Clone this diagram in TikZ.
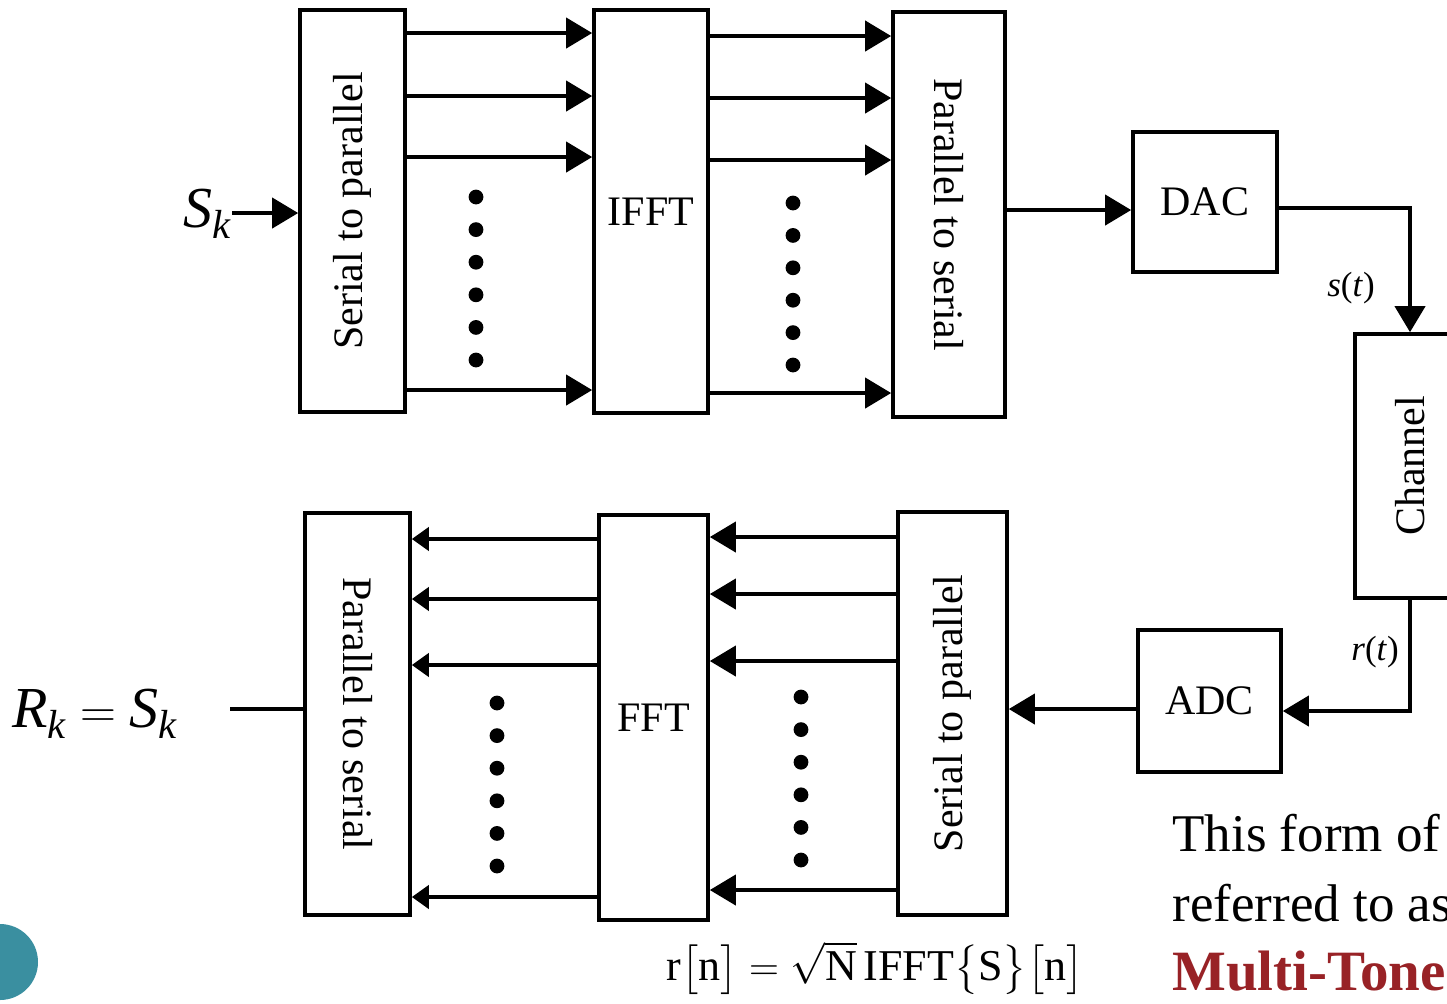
\documentclass[tikz,border=0pt]{standalone}
\usepackage{fontspec}
\usepackage{amsmath}
\usepackage{graphicx}
\setmainfont{Liberation Serif}
\usetikzlibrary{arrows.meta}
\usetikzlibrary{calc}
\definecolor{dmtred}{RGB}{152,34,38}
\definecolor{slideteal}{RGB}{58,143,160}

\begin{document}
\begin{tikzpicture}[x=0.5pt, y=-0.5pt,
	blk/.style = {draw, line width=1.8pt, inner sep=0pt, font=\fontsize{21}{24}\selectfont},
	arr/.style = {line width=2pt, -{Triangle[length=13pt, width=15pt]}},
	arrs/.style = {line width=2pt, -{Triangle[length=8.5pt, width=11.5pt]}},
	lbl/.style = {inner sep=0pt, font=\fontsize{17.5}{20}\selectfont},
	sym/.style = {inner sep=0pt, font=\fontsize{29}{32}\selectfont},
	slide/.style = {anchor=base west, inner sep=0pt, font=\fontsize{26.5}{30}\selectfont}]
	\useasboundingbox (0,0) rectangle (1447,1003);
	\clip (0,0) rectangle (1447,1003);

	\node[blk, minimum width=52.5pt, minimum height=201pt] (s2pT) at (352.5,211) {\rotatebox{90}{Serial to parallel}};
	\node[blk, minimum width=57pt, minimum height=201.5pt] (ifft) at (651,211.5) {IFFT};
	\node[blk, minimum width=56pt, minimum height=202.5pt] (p2sT) at (949,214.5) {\raisebox{0pt}{\rotatebox{-90}{\raisebox{0pt}{Parallel to serial}}}};
	\node[blk, minimum width=72pt, minimum height=70pt] (dac) at (1205,202) {DAC};
	\node[blk, minimum width=55pt, minimum height=132pt] (chan) at (1410,466) {\rotatebox{90}{Channel}};
	\node[blk, minimum width=71.5pt, minimum height=71pt] (adc) at (1209.5,701) {ADC};
	\node[blk, minimum width=54.5pt, minimum height=201.5pt] (s2pB) at (952.5,713.5) {\rotatebox{90}{Serial to parallel}};
	\node[blk, minimum width=54.5pt, minimum height=202.5pt] (fft) at (653.5,717.5) {FFT};
	\node[blk, minimum width=52.5pt, minimum height=201pt] (p2sB) at (357.5,714) {\rotatebox{-90}{Parallel to serial}};

	\node[sym, anchor=east] (sk) at (232,214) {$\textit{S}_{\textit{k}}$};
	\node[sym] (rk) at (95,714) {$\textit{R}_{\textit{k}} = \textit{S}_{\textit{k}}$};
	\coordinate (rkend) at (230,709);
	\node[lbl] (st) at (1351,288) {\textit{s}(\textit{t})};
	\node[lbl] (rt) at (1375,652) {\textit{r}(\textit{t})};

	\draw[arr] (sk.east |- 0,213) -- (s2pT.west |- 0,213);
	\foreach \y in {33,96,157,390}
		\draw[arr] (s2pT.east |- 0,\y) -- (ifft.west |- 0,\y);
	\foreach \y in {36,98,160,393}
		\draw[arr] (ifft.east |- 0,\y) -- (p2sT.west |- 0,\y);
	\draw[arr] (p2sT.east |- 0,210) -- (dac.west |- 0,210);
	\draw[arr] (dac.east |- 0,208) -| (chan.north);
	\draw[arr] (chan.south) |- (adc.east |- 0,711);
	\draw[arr] (adc.west |- 0,709) -- (s2pB.east |- 0,709);
	\foreach \y in {537,594,661,890}
		\draw[arr] (s2pB.west |- 0,\y) -- (fft.east |- 0,\y);
	\foreach \y in {539,599,665,897}
		\draw[arrs] (fft.west |- 0,\y) -- (p2sB.east |- 0,\y);
	\draw[line width=2pt] (p2sB.west |- rkend) -- (rkend);

	\foreach \i in {0,...,5} {
		\fill (476,197+32.6*\i) circle[radius=3.7pt];
		\fill (793,203+32.4*\i) circle[radius=3.7pt];
		\fill (497,703+32.6*\i) circle[radius=3.7pt];
		\fill (801,697+32.6*\i) circle[radius=3.7pt];
	}

	\node[inner sep=0pt, font=\fontsize{22}{26}\selectfont] (eq) at (875,968)
		{$\mathrm{r}\bigl[\mathrm{n}\bigr] = \sqrt{\mathrm{N}}\,\mathrm{IFFT}\bigl\{\mathrm{S}\bigr\}\bigl[\mathrm{n}\bigr]$};

	\node[slide] (line1) at (1172,851) {This form of};
	\node[slide] (line2) at (1172,921) {referred to as};
	\node[slide, text=dmtred, font=\fontsize{28.5}{32}\selectfont\bfseries] (line3) at (1172,990) {Multi-Tone};

	\fill[slideteal] (0,962) circle[radius=19pt];
\end{tikzpicture}
\end{document}
